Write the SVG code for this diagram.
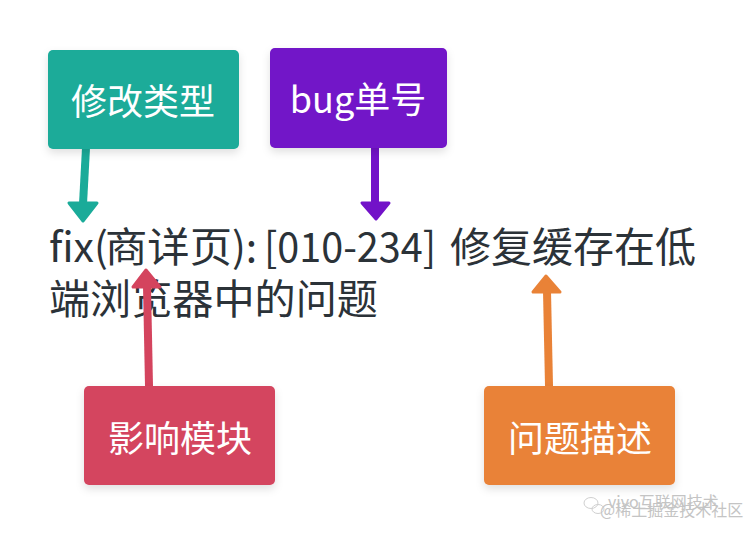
<svg xmlns="http://www.w3.org/2000/svg" width="752" height="534" viewBox="0 0 752 534">
<defs>
<filter id="sh" x="-20%" y="-20%" width="140%" height="150%">
<feDropShadow dx="0" dy="4" stdDeviation="4" flood-color="#000" flood-opacity="0.12"/>
</filter>
</defs>
<style>
.lbl{font-family:"Noto Sans CJK SC","Noto Sans",sans-serif;font-size:36px;fill:#fff;text-anchor:middle;dominant-baseline:central}
.main{font-family:"Noto Sans CJK SC","Noto Sans",sans-serif;font-size:41px;fill:#2b3238}
.wm{font-family:"Noto Sans CJK SC","Noto Sans",sans-serif;font-size:16px;fill:#c4c4c4}
.ln{stroke-width:8;fill:none;stroke-linecap:butt}
.hd{stroke-width:3;stroke-linejoin:round}
</style>
<rect width="752" height="534" fill="#fff"/>

<g id="message">
<text class="main" y="262"><tspan x="49">fix(</tspan><tspan x="105" textLength="127" lengthAdjust="spacingAndGlyphs">商详页</tspan><tspan x="232">):</tspan><tspan x="264" textLength="172" lengthAdjust="spacingAndGlyphs">[010-234]</tspan><tspan x="450" textLength="246" lengthAdjust="spacingAndGlyphs">修复缓存在低</tspan></text>
<text class="main" x="49" y="314" textLength="329" lengthAdjust="spacingAndGlyphs">端浏览器中的问题</text>
</g>

<g id="connectors">
<line class="ln" x1="86" y1="148" x2="83" y2="204" stroke="#1aab99"/>
<polygon class="hd" points="69,203 97,203 83,221" fill="#1aab99" stroke="#1aab99"/>
<line class="ln" x1="375" y1="146" x2="375" y2="204" stroke="#7212c8"/>
<polygon class="hd" points="362,203 389,203 376,219" fill="#7212c8" stroke="#7212c8"/>
<line class="ln" x1="149" y1="386" x2="147" y2="286" stroke="#d4445e"/>
<polygon class="hd" points="133,287 160,287 146,270" fill="#d4445e" stroke="#d4445e"/>
<line class="ln" x1="549" y1="386" x2="547" y2="291" stroke="#e98237"/>
<polygon class="hd" points="533,292 560,292 546,276" fill="#e98237" stroke="#e98237"/>
</g>

<g id="node-type">
<rect x="48" y="50" width="191" height="99" rx="5" fill="#1aab99" filter="url(#sh)"/>
<text class="lbl" x="143" y="99">修改类型</text>
</g>
<g id="node-bug">
<rect x="270" y="48" width="177" height="100" rx="5" fill="#7212c8" filter="url(#sh)"/>
<text class="lbl" x="358" y="97">bug单号</text>
</g>
<g id="node-module">
<rect x="84" y="386" width="191" height="99" rx="5" fill="#d4445e" filter="url(#sh)"/>
<text class="lbl" x="180" y="436">影响模块</text>
</g>
<g id="node-desc">
<rect x="484" y="386" width="191" height="99" rx="5" fill="#e98237" filter="url(#sh)"/>
<text class="lbl" x="580" y="436">问题描述</text>
</g>

<g id="watermark">
<ellipse cx="591" cy="503" rx="7" ry="5.5" fill="none" stroke="#d0d0d0" stroke-width="1"/>
<ellipse cx="598" cy="509" rx="6" ry="4.5" fill="none" stroke="#d0d0d0" stroke-width="1"/>
<text class="wm" x="608" y="508">vivo互联网技术</text>
<text class="wm" x="600" y="516">@稀土掘金技术社区</text>
</g>
</svg>
